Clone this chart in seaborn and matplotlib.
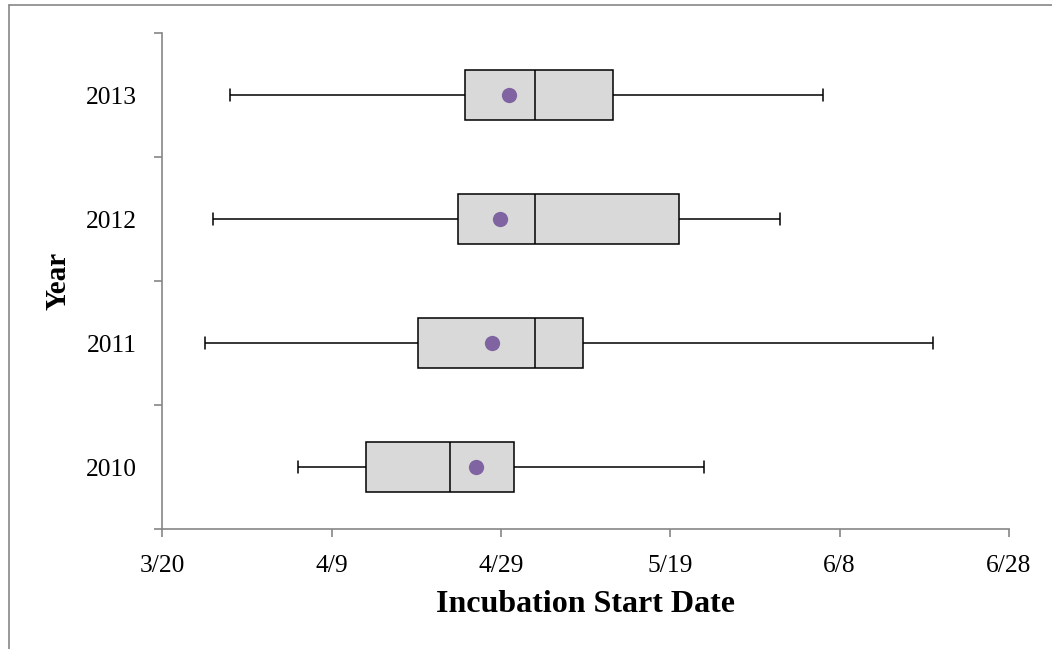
import datetime as dt
import matplotlib
matplotlib.use("Agg")
import matplotlib.pyplot as plt
from matplotlib.lines import Line2D
from matplotlib.ticker import FixedLocator, FuncFormatter
import numpy as np
import pandas as pd
import seaborn as sns

# ---- data (days after 3/20) ----
years = ["2013", "2012", "2011", "2010"]
whisker_low = [8.0, 6.0, 5.0, 16.0]
q1 = [35.7, 34.9, 30.2, 24.0]
median = [44.0, 44.0, 44.0, 34.0]
q3 = [53.2, 61.0, 49.7, 41.5]
whisker_high = [78.0, 73.0, 91.0, 64.0]
mean = [40.9, 39.9, 38.9, 37.0]
x_ticks = [0, 20, 40, 60, 80, 100]
base_date = dt.date(2013, 3, 20)

# five-number summaries per year -> long table
rows = []
for i, y in enumerate(years):
    for v in (whisker_low[i], q1[i], median[i], q3[i], whisker_high[i]):
        rows.append({"Year": y, "Day": v})
df = pd.DataFrame(rows)
mean_df = pd.DataFrame({"Year": years, "Day": mean})

sns.set_style("white")
plt.rcParams["font.family"] = ["Liberation Serif", "DejaVu Serif"]
plt.rcParams["text.color"] = "black"
plt.rcParams["axes.labelcolor"] = "black"

W, H = 1052, 649
fig = plt.figure(figsize=(W / 100, H / 100), dpi=100)
ax = fig.add_axes([162.3 / W, 1 - 529 / H, (1009 - 162.3) / W, (529 - 33) / H])

sns.boxplot(data=df, x="Day", y="Year", order=years, whis=(0, 100),
            width=0.4, color="#D9D9D9", saturation=1, linecolor="black",
            linewidth=1.1, capwidths=0.1, ax=ax)
sns.pointplot(data=mean_df, x="Day", y="Year", order=years, color="#8064A2",
              linestyle="none", markers="o", errorbar=None, markersize=11,
              markeredgewidth=0, ax=ax)

ax.set_xlim(0, 100)
ax.set_ylim(3.5, -0.5)
ax.set_xticks(x_ticks)

def fmt(v, pos):
    d = base_date + dt.timedelta(days=int(round(v)))
    return f"{d.month}/{d.day}"

ax.xaxis.set_major_formatter(FuncFormatter(fmt))
ax.set_yticks(range(len(years)))
ax.set_yticklabels(years)
ax.yaxis.set_minor_locator(FixedLocator([-0.5, 0.5, 1.5, 2.5, 3.5]))

axis_gray = "#868686"
for s in ["top", "right"]:
    ax.spines[s].set_visible(False)
for s in ["left", "bottom"]:
    ax.spines[s].set_color(axis_gray)
    ax.spines[s].set_linewidth(1.2)

ax.tick_params(axis="x", which="major", direction="out", length=5.8, width=1.2,
               color=axis_gray, labelcolor="black", labelsize=18.4, pad=13, bottom=True)
ax.tick_params(axis="y", which="major", length=0, labelsize=18.4, labelcolor="black",
               pad=18.4, left=True)
ax.tick_params(axis="y", which="minor", direction="out", length=5.8, width=1.2,
               color=axis_gray, left=True)

ax.set_xlabel("Incubation Start Date", fontsize=23, fontweight="bold", color="black")
ax.set_ylabel("Year", fontsize=21, fontweight="bold", color="black")
ax.xaxis.set_label_coords((585 - 162.3) / (1009 - 162.3), (529 - 604) / (529 - 33))
ax.xaxis.label.set_va("center")
ax.yaxis.set_label_coords((58 - 162.3) / (1009 - 162.3), (529 - 281) / (529 - 33))
ax.yaxis.label.set_va("center")
ax.yaxis.label.set_ha("center")

# outer chart frame (top and left visible)
fig.add_artist(Line2D([8.5 / W, 8.5 / W], [0, 1 - 4.5 / H], transform=fig.transFigure,
                      color=axis_gray, lw=1.2))
fig.add_artist(Line2D([8.5 / W, 1], [1 - 4.5 / H, 1 - 4.5 / H], transform=fig.transFigure,
                      color=axis_gray, lw=1.2))

fig.savefig("out.png", dpi=100)
